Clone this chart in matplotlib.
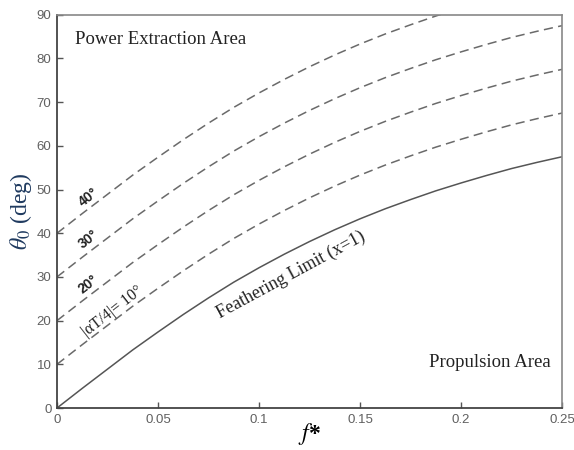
import numpy as np
import matplotlib.pyplot as plt

plt.rcParams['mathtext.fontset'] = 'stix'

# feathering limit (x=1), theta_0 in degrees vs reduced frequency f*
f_star = [0.0, 0.0125, 0.025, 0.0375, 0.05, 0.0625, 0.075, 0.0875, 0.1,
          0.1125, 0.125, 0.1375, 0.15, 0.1625, 0.175, 0.1875, 0.2,
          0.2125, 0.225, 0.2375, 0.25]
theta_feather = [0.0, 4.5, 8.9, 13.3, 17.4, 21.4, 25.2, 28.8, 32.1,
                 35.2, 38.1, 40.8, 43.3, 45.6, 47.7, 49.7, 51.5,
                 53.2, 54.8, 56.2, 57.5]
# |alpha_T/4| offsets for the dashed iso-lines
alpha_offsets = [10, 20, 30, 40]

x_ticks = [0, 0.05, 0.1, 0.15, 0.2, 0.25]
x_tick_labels = ['0', '0.05', '0.1', '0.15', '0.2', '0.25']
y_ticks = [0, 10, 20, 30, 40, 50, 60, 70, 80, 90]

fig = plt.figure(figsize=(5.74, 4.5), dpi=100)
ax = fig.add_axes([0.0993, 0.0933, 0.880, 0.874])

ax.plot(f_star, theta_feather, color='#555555', lw=1.1)
for a in alpha_offsets:
    ax.plot(f_star, np.array(theta_feather) + a, color='#6a6a6a', lw=1.1,
            dashes=(6, 3.5))

ax.set_xlim(0, 0.25)
ax.set_ylim(0, 90)
ax.set_xticks(x_ticks)
ax.set_xticklabels(x_tick_labels)
ax.set_yticks(y_ticks)
ax.tick_params(direction='in', length=4, width=1, colors='#555555',
               labelsize=9.5, labelcolor='#606060', pad=4)
for lab in ax.get_xticklabels() + ax.get_yticklabels():
    lab.set_fontfamily('Liberation Sans')

for side in ['left', 'bottom']:
    ax.spines[side].set_color('#444444')
    ax.spines[side].set_linewidth(1.3)
for side in ['top', 'right']:
    ax.spines[side].set_color('#888888')
    ax.spines[side].set_linewidth(1.2)

ax.set_xlabel(r'$f$*', fontsize=17, family='Liberation Serif',
              fontweight='bold', labelpad=-3)
ax.set_ylabel(r'$\theta_0$ (deg)', fontsize=17, color='#1f3a5f',
              family='Liberation Serif', labelpad=2)

# angle labels along the dashed lines
for yl, txt in [(48.1, '40°'), (38.5, '30°'), (28.2, '20°')]:
    ax.text(0.0157, yl, txt, rotation=38, fontsize=10, fontweight='bold',
            family='Liberation Sans', ha='center', va='center',
            color='#222222')
ax.text(0.0276, 22.0, '|αT/4|= 10°', rotation=38, fontsize=11.5,
        family='Liberation Serif', ha='center', va='center', color='#222222')

ax.text(0.1157, 30.5, 'Feathering Limit (x=1)', rotation=28.4, fontsize=13,
        family='Liberation Serif', ha='center', va='center', color='#222222')
ax.text(0.0089, 84.3, 'Power Extraction Area', fontsize=13.5,
        family='Liberation Serif', ha='left', va='center', color='#222222')
ax.text(0.2445, 10.5, 'Propulsion Area', fontsize=13.5,
        family='Liberation Serif', ha='right', va='center', color='#222222')

fig.savefig('out.png', dpi=100)
